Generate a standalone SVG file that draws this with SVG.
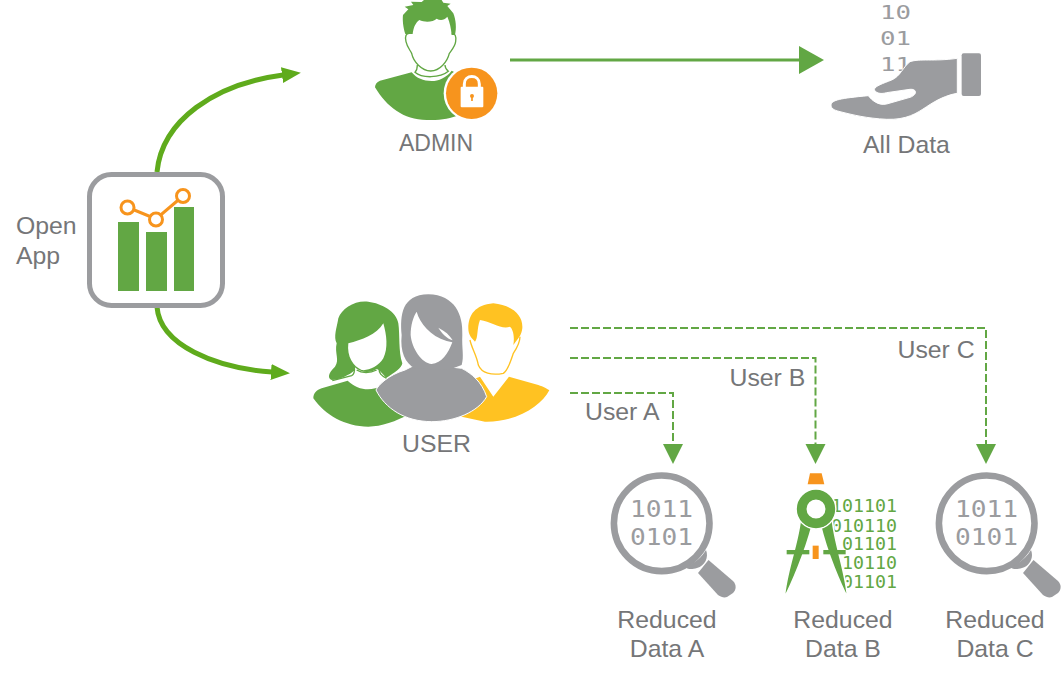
<svg xmlns="http://www.w3.org/2000/svg" width="1061" height="679" viewBox="0 0 1061 679">
<style>
.lb{font-family:"Liberation Sans",Arial,sans-serif;font-size:24.8px;fill:#757678}
.m{text-anchor:middle}
.g{fill:#62A744}.k{fill:#9B9C9F}.o{fill:#F7941D}.y{fill:#FFC222}.w{fill:#fff}
.big{fill:none;stroke:#5FAB1C;stroke-width:5}
.ln{fill:none;stroke:#62A744;stroke-width:3}
.ds{fill:none;stroke:#62A744;stroke-width:2;stroke-dasharray:8 3}
.dg{font-family:"DejaVu Sans Mono",monospace;font-size:23px;fill:#9B9C9F}
.dh{font-family:"DejaVu Sans Mono",monospace;font-size:20px;fill:#9B9C9F}
.dc{font-family:"DejaVu Sans Mono",monospace;font-size:17.6px;fill:#62A744}
</style>
<defs>
<marker id="a1" markerUnits="userSpaceOnUse" markerWidth="20" markerHeight="20" refX="1" refY="10" orient="auto"><path d="M0,2 L19,10 L0,18 Z" fill="#5FAB1C"/></marker>
<marker id="a2" markerUnits="userSpaceOnUse" markerWidth="26" markerHeight="30" refX="1" refY="15" orient="auto"><path d="M0,1 L25,15 L0,29 Z" fill="#62A744"/></marker>
<marker id="a3" markerUnits="userSpaceOnUse" markerWidth="21" markerHeight="22" refX="1" refY="11" orient="auto"><path d="M0,1 L20,11 L0,21 Z" fill="#62A744"/></marker>
<g id="lens">
<circle cx="661.7" cy="523.3" r="47.8" fill="#fff" stroke="#9B9C9F" stroke-width="6.6"/>
<path class="k" d="M706,550 C709,557 705,566 697,568 C691,570 687,569 685,567 C695,563 702,557 706,550 Z"/>
<path class="k" d="M708.500,560 L733,581 C737,585 736,590 733,593 L727,597 C724,598 721,597 718,595 L698,573 Z"/>
<text class="dg" x="630" y="517" textLength="63" lengthAdjust="spacingAndGlyphs">1011</text>
<text class="dg" x="630" y="545" textLength="63" lengthAdjust="spacingAndGlyphs">0101</text>
</g>
</defs>

<g id="connectors">
<path class="big" marker-end="url(#a1)" d="M157,172 C162,120 215,84 283,75"/>
<path class="big" marker-end="url(#a1)" d="M157,307 C160,345 215,368 272,372"/>
<path class="ln" marker-end="url(#a2)" d="M510,60 L800,60"/>
<path class="ds" marker-end="url(#a3)" d="M570,393 H673 V445"/>
<path class="ds" marker-end="url(#a3)" d="M570,358 H815.500 V445"/>
<path class="ds" marker-end="url(#a3)" d="M570,328 H986 V445"/>
<text class="lb" x="585" y="420">User A</text>
<text class="lb" x="729.500" y="386">User B</text>
<text class="lb" x="897.500" y="358">User C</text>
</g>

<g id="open-app">
<rect x="89.500" y="174.500" width="133" height="131" rx="22" fill="#fff" stroke="#9B9C9F" stroke-width="5"/>
<rect class="g" x="118" y="222" width="21" height="69"/>
<rect class="g" x="146" y="232" width="21" height="59"/>
<rect class="g" x="174" y="207" width="20" height="84"/>
<path d="M127,207 L156,219 L183,196" fill="none" stroke="#F7941D" stroke-width="3"/>
<circle cx="127.500" cy="207.500" r="6.500" fill="#fff" stroke="#F7941D" stroke-width="3"/>
<circle cx="156" cy="219.500" r="6.500" fill="#fff" stroke="#F7941D" stroke-width="3"/>
<circle cx="183" cy="196" r="6.500" fill="#fff" stroke="#F7941D" stroke-width="3"/>
<text class="lb" x="16" y="234">Open</text>
<text class="lb" x="16" y="264">App</text>
</g>

<g id="admin">
<g transform="translate(360,0) scale(.3333)">
<path class="g" d="M136,102 C130,85 127,60 129,45 L145,28 L134,20 L160,15 L153,5 L185,6 L192,0 L245,0 L250,8 L272,11 L262,18 L280,40 C288,60 290,85 285,105 L275,105 C273,85 270,68 262,50 C252,62 240,62 230,56 C220,66 195,68 178,60 C165,70 160,85 158,102 Z"/>
<path d="M150,100 C138,98 134,110 138,125 C141,140 150,150 155,160 C160,185 185,212 212,213 C240,212 262,185 268,160 C275,150 285,140 287,125 C290,110 285,98 275,102" fill="none" stroke="#62A744" stroke-width="4"/>
<path d="M172,195 C172,205 172,210 165,217 C185,235 240,235 265,214 C258,208 255,203 255,195" fill="none" stroke="#62A744" stroke-width="4"/>
<path class="g" d="M45,262 C45,255 50,245 60,242 L155,217 C170,235 190,243 215,243 C235,243 260,233 275,212 L310,230 L300,345 C270,355 240,362 200,360 C130,360 80,320 45,262 Z"/>
<circle class="w" cx="335" cy="280" r="84"/>
<circle class="o" cx="335" cy="280" r="77"/>
<path d="M313,262 V252 C313,222 358,222 358,252 V262" fill="none" stroke="#fff" stroke-width="9"/>
<rect class="w" x="302" y="260" width="68" height="62" rx="3"/>
<circle class="o" cx="336" cy="288" r="6"/>
<rect class="o" x="333.500" y="288" width="5" height="15"/>
</g>
<text class="lb m" x="436" y="151" style="font-size:23px">ADMIN</text>
</g>

<g id="all-data">
<text class="dh" x="880" y="18.500" textLength="31" lengthAdjust="spacingAndGlyphs">10</text>
<text class="dh" x="880" y="45" textLength="31" lengthAdjust="spacingAndGlyphs">01</text>
<text class="dh" x="880" y="70.500" textLength="31" lengthAdjust="spacingAndGlyphs">11</text>
<g transform="translate(820,0) scale(.3333)">
<path class="k" stroke="#fff" stroke-width="3" d="M33,315 C35,300 60,295 145,287 C155,300 175,318 200,312 L270,292 C292,285 292,266 270,268 L200,278 C180,284 165,278 163,268 C165,258 190,250 215,240 C240,230 250,200 270,185 C300,175 340,185 412,175 L412,280 C380,285 350,300 320,320 C290,340 260,360 200,358 C140,355 100,345 60,335 C40,330 33,325 33,315 Z"/>
<rect class="k" x="425" y="160" width="58" height="128" rx="6"/>
</g>
<text class="lb m" x="906.500" y="153">All Data</text>
</g>

<g id="user">
<g transform="translate(305,285) scale(.3333)">
<path class="y" d="M490,130 C490,90 510,60 565,55 C620,60 655,90 652,130 C650,150 640,160 640,160 L625,180 C630,150 622,130 615,125 C590,135 560,110 525,105 C515,130 520,160 510,170 C500,160 490,150 490,130 Z"/>
<path d="M495,165 C500,190 515,210 520,240 C530,265 560,272 595,265 C610,255 620,220 625,205 C635,190 645,170 645,155" fill="none" stroke="#FFC222" stroke-width="4"/>
<path class="y" d="M525,275 L565,335 L612,275 L700,300 C715,305 728,312 733,316 C710,360 640,412 540,410 L470,395 L460,300 Z"/>
<path class="g" d="M100,100 C110,70 150,45 190,50 C230,55 275,80 280,115 C285,150 280,200 292,235 C290,250 270,262 245,278 L150,255 C135,270 100,285 80,285 C68,280 68,265 90,245 C105,225 88,205 95,175 C85,155 95,130 100,100 Z"/>
<path class="w" d="M130,175 C170,165 215,150 235,115 C245,150 250,190 235,220 C220,245 190,258 170,255 C145,245 125,215 130,175 Z"/>
<path class="w" d="M148,245 L150,268 L85,290 L130,305 L230,310 L245,280 L222,255 L215,252 C195,265 170,265 148,245 Z"/>
<path d="M148,245 C150,262 148,268 140,272 L82,287 M222,250 C222,265 228,272 245,280" fill="none" stroke="#62A744" stroke-width="4"/>
<path d="M155,255 C170,265 195,265 215,255" fill="none" stroke="#62A744" stroke-width="4"/>
<path class="g" d="M25,340 C25,325 35,315 50,310 L128,287 C160,318 200,318 232,302 L320,385 C270,410 230,425 190,425 C120,425 60,390 25,340 Z"/>
<path class="k" stroke="#fff" stroke-width="3" d="M213,315 C220,300 250,270 300,255 L330,240 L430,245 L470,250 C500,265 530,290 545,335 C520,380 450,410 380,410 C300,410 240,370 213,315 Z"/>
<path class="k" d="M290,150 C285,90 290,30 370,28 C450,30 475,90 472,150 C470,190 478,215 470,240 L430,255 L330,250 C300,235 285,200 290,150 Z"/>
<path class="w" d="M335,80 C345,115 375,152 425,168 L442,172 C430,205 410,235 380,237 C350,235 320,190 317,150 C317,120 325,95 335,80 Z"/>
<path class="w" d="M400,128 C420,138 434,150 443,166 C425,160 410,145 400,128 Z"/>
</g>
<text class="lb m" x="436.500" y="452">USER</text>
</g>

<g id="reduced-a">
<use href="#lens"/>
<text class="lb m" x="667" y="628">Reduced</text>
<text class="lb m" x="667" y="657">Data A</text>
</g>

<g id="reduced-b">
<text class="dc" x="831" y="512" textLength="66" lengthAdjust="spacingAndGlyphs">101101</text>
<text class="dc" x="831" y="531.500" textLength="66" lengthAdjust="spacingAndGlyphs">010110</text>
<text class="dc" x="842" y="550" textLength="55" lengthAdjust="spacingAndGlyphs">01101</text>
<text class="dc" x="842" y="569" textLength="55" lengthAdjust="spacingAndGlyphs">10110</text>
<text class="dc" x="842" y="588" textLength="55" lengthAdjust="spacingAndGlyphs">01101</text>
<g transform="translate(775,460) scale(.3333)">
<path class="o" d="M105,40 L140,40 L148,73 L98,73 Z"/>
<path class="g" stroke="#fff" stroke-width="5" d="M76,180 C68,255 32,340 28,414 C48,375 90,280 112,195 Z"/>
<path class="g" stroke="#fff" stroke-width="5" d="M172,180 C180,255 213,340 218,414 C198,375 156,280 136,195 Z"/>
<rect class="g" x="35" y="270" width="68" height="13"/>
<rect class="g" x="145" y="270" width="67" height="13"/>
<circle cx="123" cy="147" r="59" fill="none" stroke="#fff" stroke-width="5"/>
<circle cx="123" cy="147" r="43" fill="none" stroke="#62A744" stroke-width="29"/>
<rect class="o" x="113" y="257" width="18" height="40"/>
</g>
<text class="lb m" x="843" y="628">Reduced</text>
<text class="lb m" x="843" y="657">Data B</text>
</g>

<g id="reduced-c">
<use href="#lens" x="325"/>
<text class="lb m" x="995" y="628">Reduced</text>
<text class="lb m" x="995" y="657">Data C</text>
</g>
</svg>
